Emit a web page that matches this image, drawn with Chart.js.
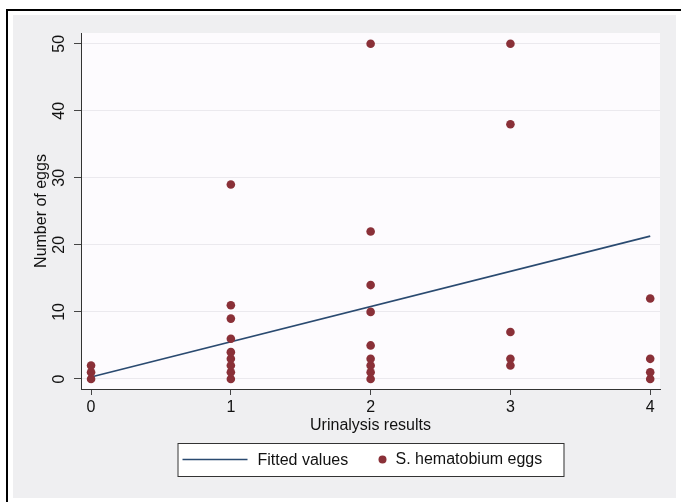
<!DOCTYPE html>
<html>
<head>
<meta charset="utf-8">
<script src="https://cdn.jsdelivr.net/npm/chart.js@4/dist/chart.umd.min.js"></script>
<style>
  html, body { margin: 0; padding: 0; background: #ffffff; }
  #wrap { width: 681px; height: 502px; }
</style>
</head>
<body>
<div id="wrap"><canvas id="eggplot" width="681" height="502"></canvas></div>
<script>
// urinalysis result (x) and egg count (y) for each child
var urinalysis = [0, 0, 0,
                  1, 1, 1, 1, 1, 1, 1, 1, 1,
                  2, 2, 2, 2, 2, 2, 2, 2, 2,
                  3, 3, 3, 3, 3,
                  4, 4, 4, 4];
var eggs = [0, 1, 2,
            0, 1, 2, 3, 4, 6, 9, 11, 29,
            0, 1, 2, 3, 5, 10, 14, 22, 50,
            2, 3, 7, 38, 50,
            0, 1, 3, 12];

// fitted line end points
var fitX = [0, 4];
var fitY = [0.3, 21.3];

var xTicks = [0, 1, 2, 3, 4];
var yTicks = [0, 10, 20, 30, 40, 50];

var seriesLabels = ["Fitted values", "S. hematobium eggs"];

var lineColor = "rgb(42,74,112)";
var dotColor = "rgb(138,48,56)";
var FONT = "'Liberation Sans', Arial, sans-serif";

var scatterPts = urinalysis.map(function (x, i) {
    return { x: x, y: eggs[i] };
});
var fitPts = fitX.map(function (x, i) {
    return { x: x, y: fitY[i] };
});

// frame, grey background and plot region
var backdrop = {
    id: "backdrop",
    beforeDraw: function (chart) {
        var c = chart.ctx, a = chart.chartArea;
        c.save();
        c.fillStyle = "#ffffff";
        c.fillRect(0, 0, chart.width, chart.height);
        c.fillStyle = "#000000";
        c.fillRect(6, 9, 2, chart.height - 9);
        c.fillRect(6, 9, chart.width - 6, 2);
        c.fillStyle = "#efeff1";
        c.fillRect(13, 15, 663, 483);
        c.fillStyle = "#fdfbfe";
        c.fillRect(a.left, a.top, a.right - a.left, a.bottom - a.top);
        c.restore();
    }
};

// boxed legend under the axis title
var boxLegend = {
    id: "boxLegend",
    afterDraw: function (chart) {
        var c = chart.ctx, a = chart.chartArea;
        var cx = (a.left + a.right) / 2;
        var left = cx - 193, top = 443, w = 386, h = 33;
        var mid = top + h / 2;
        c.save();
        c.fillStyle = "#ffffff";
        c.fillRect(left, top, w, h);
        c.strokeStyle = "#333333";
        c.lineWidth = 1;
        c.strokeRect(left + 0.5, top + 0.5, w, h);

        c.strokeStyle = lineColor;
        c.lineWidth = 1.6;
        c.beginPath();
        c.moveTo(left + 5, mid);
        c.lineTo(left + 70, mid);
        c.stroke();

        c.fillStyle = "#111111";
        c.font = "16px " + FONT;
        c.textBaseline = "middle";
        c.fillText(seriesLabels[0], left + 80, mid + 1);

        c.fillStyle = dotColor;
        c.beginPath();
        c.arc(left + 205, mid, 4, 0, Math.PI * 2);
        c.fill();

        c.fillStyle = "#111111";
        c.fillText(seriesLabels[1], left + 218, mid);
        c.restore();
    }
};

var ctx = document.getElementById("eggplot").getContext("2d");
var eggChart = new Chart(ctx, {
    type: "scatter",
    data: {
        datasets: [
            {
                type: "scatter",
                label: seriesLabels[1],
                data: scatterPts,
                backgroundColor: dotColor,
                borderColor: dotColor,
                pointRadius: 4.3,
                borderWidth: 0,
                order: 0
            },
            {
                type: "line",
                label: seriesLabels[0],
                data: fitPts,
                borderColor: lineColor,
                borderWidth: 1.6,
                pointRadius: 0,
                fill: false,
                order: 1
            }
        ]
    },
    options: {
        responsive: false,
        animation: false,
        devicePixelRatio: 1,
        layout: { padding: { left: 0, top: 33, right: 21, bottom: 0 } },
        plugins: {
            legend: { display: false },
            tooltip: { enabled: false }
        },
        scales: {
            x: {
                type: "linear",
                min: -0.072,
                max: 4.07,
                afterBuildTicks: function (scale) {
                    scale.ticks = xTicks.map(function (v) { return { value: v }; });
                },
                afterFit: function (scale) { scale.height = 113; },
                grid: {
                    drawOnChartArea: false,
                    drawTicks: true,
                    tickLength: 6,
                    tickColor: "#444444"
                },
                border: { display: true, color: "#333333", width: 1 },
                ticks: {
                    color: "#111111",
                    font: { family: FONT, size: 16 },
                    padding: 3
                },
                title: {
                    display: true,
                    text: "Urinalysis results",
                    color: "#111111",
                    font: { family: FONT, size: 16 },
                    padding: { top: 0, bottom: 67 }
                }
            },
            y: {
                type: "linear",
                min: -1.5,
                max: 51.6,
                afterBuildTicks: function (scale) {
                    scale.ticks = yTicks.map(function (v) { return { value: v }; });
                },
                afterFit: function (scale) { scale.width = 81; },
                grid: {
                    drawOnChartArea: true,
                    color: "#ebe9ee",
                    lineWidth: 1,
                    drawTicks: true,
                    tickLength: 7,
                    tickColor: "#444444"
                },
                border: { display: true, color: "#333333", width: 1 },
                ticks: {
                    color: "#111111",
                    font: { family: FONT, size: 16 },
                    minRotation: 90,
                    maxRotation: 90,
                    crossAlign: "center",
                    padding: 6
                },
                title: {
                    display: true,
                    text: "Number of eggs",
                    color: "#111111",
                    font: { family: FONT, size: 16 },
                    padding: { top: 32, bottom: 0 }
                }
            }
        }
    },
    plugins: [backdrop, boxLegend]
});
</script>
</body>
</html>
